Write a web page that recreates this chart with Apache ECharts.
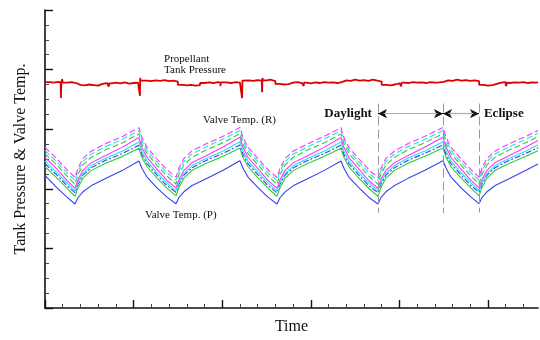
<!DOCTYPE html>
<html><head><meta charset="utf-8">
<script src="https://cdn.jsdelivr.net/npm/echarts@6/dist/echarts.min.js"></script>
<style>html,body{margin:0;padding:0;background:#fff}#c{width:540px;height:340px}</style>
</head><body><div id="c"></div>
<script>
// time in axis units (one minor tick = 1 unit)
const times = [0, 0.68, 1.24, 1.69,
 1.86, 2.14, 2.60, 3.39, 4.35, 5.30, 5.47, 5.76, 6.32, 6.88, 7.39,
 7.56, 7.84, 8.30, 9.09, 10.05, 11.00, 11.17, 11.46, 12.02, 12.58, 13.09,
 13.26, 13.54, 14.00, 14.79, 15.74, 16.70, 16.87, 17.16, 17.72, 18.28, 18.79,
 18.96, 19.24, 19.70, 20.49, 21.44, 22.46, 22.63, 22.91, 23.48, 24.04, 24.49,
 24.66, 24.94, 25.40, 26.19, 27.14, 27.82];

const magentaDashed = [53.9, 50.0, 46.4, 43.8,
 46.9, 50.2, 52.6, 55.1, 57.5, 60.5, 57.2, 53.9, 50.0, 46.4, 43.9,
 47.0, 50.2, 52.7, 55.1, 57.6, 60.6, 57.3, 53.9, 50.1, 46.4, 43.8,
 46.9, 50.1, 52.6, 55.0, 57.5, 60.5, 57.2, 53.8, 50.0, 46.3, 43.8,
 47.0, 50.2, 52.6, 55.2, 57.6, 60.6, 57.3, 53.9, 50.0, 46.4, 43.9,
 47.0, 50.2, 52.7, 55.1, 57.6, 59.6];
const cyanDashed = [52.9, 49.0, 45.4, 42.8,
 45.9, 49.2, 51.6, 54.1, 56.6, 59.5, 56.2, 52.9, 49.0, 45.4, 42.9,
 46.0, 49.2, 51.7, 54.1, 56.7, 59.6, 56.3, 52.9, 49.1, 45.4, 42.8,
 45.9, 49.1, 51.6, 54.0, 56.6, 59.5, 56.2, 52.8, 49.0, 45.3, 42.8,
 46.0, 49.2, 51.6, 54.2, 56.6, 59.6, 56.3, 52.9, 49.0, 45.4, 42.9,
 46.0, 49.2, 51.7, 54.1, 56.7, 58.6];
const greenDashed = [51.8, 47.9, 44.3, 41.5,
 44.8, 48.0, 50.5, 53.0, 55.4, 58.4, 55.1, 51.8, 47.9, 44.3, 41.6,
 44.9, 48.0, 50.6, 53.0, 55.5, 58.5, 55.2, 51.8, 48.0, 44.3, 41.5,
 44.8, 47.9, 50.5, 52.9, 55.4, 58.4, 55.1, 51.7, 47.9, 44.2, 41.5,
 44.9, 48.0, 50.5, 53.1, 55.5, 58.5, 55.2, 51.8, 47.9, 44.3, 41.6,
 44.9, 48.0, 50.6, 53.0, 55.5, 57.5];
const magentaSolid = [50.5, 46.6, 42.8, 40.2,
 43.0, 46.2, 48.7, 51.1, 53.9, 57.2, 53.9, 50.5, 46.6, 42.8, 40.3,
 43.1, 46.2, 48.8, 51.1, 54.0, 57.3, 54.0, 50.5, 46.7, 42.8, 40.2,
 43.0, 46.1, 48.7, 51.0, 53.9, 57.2, 53.9, 50.4, 46.6, 42.7, 40.2,
 43.1, 46.2, 48.7, 51.2, 54.0, 57.3, 54.0, 50.5, 46.6, 42.8, 40.3,
 43.1, 46.2, 48.8, 51.1, 54.0, 56.2];
const cyanSolid = [49.3, 45.4, 42.0, 39.3,
 42.1, 45.2, 47.7, 50.2, 52.6, 55.7, 52.6, 49.3, 45.4, 42.0, 39.4,
 42.2, 45.2, 47.8, 50.2, 52.7, 55.8, 52.7, 49.3, 45.5, 42.0, 39.3,
 42.1, 45.1, 47.7, 50.1, 52.6, 55.7, 52.6, 49.2, 45.4, 41.9, 39.3,
 42.2, 45.2, 47.7, 50.3, 52.7, 55.8, 52.7, 49.3, 45.4, 42.0, 39.4,
 42.2, 45.2, 47.8, 50.2, 52.7, 54.8];
const blueDashed = [48.4, 44.6, 41.1, 38.7,
 41.5, 44.6, 47.0, 49.5, 51.8, 54.6, 51.5, 48.4, 44.6, 41.1, 38.8,
 41.6, 44.6, 47.1, 49.5, 51.9, 54.7, 51.6, 48.4, 44.7, 41.1, 38.7,
 41.5, 44.5, 47.0, 49.4, 51.8, 54.6, 51.5, 48.3, 44.6, 41.0, 38.7,
 41.6, 44.6, 47.0, 49.6, 51.9, 54.7, 51.6, 48.4, 44.6, 41.1, 38.8,
 41.6, 44.6, 47.1, 49.5, 51.9, 53.8];
const greenSolid = [47.4, 43.6, 40.2, 37.5,
 40.3, 43.6, 46.1, 48.5, 50.8, 53.6, 50.5, 47.4, 43.6, 40.2, 37.6,
 40.4, 43.6, 46.2, 48.5, 50.9, 53.7, 50.6, 47.4, 43.7, 40.2, 37.5,
 40.3, 43.5, 46.1, 48.4, 50.8, 53.6, 50.5, 47.3, 43.6, 40.1, 37.5,
 40.4, 43.6, 46.1, 48.6, 50.9, 53.7, 50.6, 47.4, 43.6, 40.2, 37.6,
 40.4, 43.6, 46.2, 48.5, 50.9, 52.8];
const blueSolid = [44.5, 40.3, 37.2, 34.9,
 37.0, 39.0, 41.0, 43.4, 46.1, 49.3, 46.9, 43.9, 40.3, 37.2, 35.0,
 37.1, 39.0, 41.1, 43.4, 46.2, 49.4, 47.0, 43.9, 40.4, 37.2, 34.9,
 37.0, 38.9, 41.0, 43.3, 46.1, 49.3, 46.9, 43.8, 40.3, 37.1, 34.9,
 37.1, 39.0, 41.0, 43.5, 46.2, 49.4, 47.0, 43.9, 40.3, 37.2, 35.0,
 37.1, 39.0, 41.1, 43.4, 46.2, 48.3];

const pressureT = [0,0.25,0.5,0.75,0.88,0.9,0.92,0.97,1,1.25,1.5,1.75,2,2.25,2.5,2.75,3,3.25,3.5,3.6,3.62,3.75,4,4.25,4.5,4.75,5,5.25,5.34,5.36,5.37,5.39,5.5,5.75,6,6.25,6.5,6.75,7,7.25,7.5,7.75,8,8.25,8.5,8.75,9,9.25,9.5,9.75,9.9,9.92,10,10.25,10.5,10.75,11,11.1,11.12,11.14,11.25,11.5,11.75,12,12.23,12.25,12.27,12.3,12.5,12.75,13,13.25,13.5,13.75,14,14.25,14.5,14.6,14.62,14.75,15,15.25,15.5,15.75,16,16.25,16.5,16.75,17,17.25,17.5,17.75,18,18.25,18.5,18.75,19,19.25,19.5,19.75,20,20.1,20.12,20.25,20.5,20.75,21,21.25,21.5,21.75,22,22.25,22.5,22.75,23,23.25,23.5,23.75,24,24.25,24.5,24.75,25,25.25,25.5,25.75,26,26.1,26.12,26.25,26.5,26.75,27,27.25,27.5,27.75,27.82];
const pressureV = [75.8,75.6,75.9,75.7,75.7,70.5,75.8,76.8,75.6,75.8,75.5,74.9,74.7,75.0,74.8,74.6,75.2,75.5,75.3,74.3,75.4,75.6,75.4,75.7,75.3,75.5,75.6,76.0,76.2,71.2,77.2,76.3,76.3,76.1,76.4,76.2,76.5,76.1,76.3,76.0,74.9,74.7,74.9,74.6,74.8,75.5,75.7,75.5,75.8,75.6,74.4,75.7,75.7,75.5,75.8,75.6,76.1,76.2,70.4,76.3,76.4,76.2,76.5,76.3,76.2,72.4,77.2,76.4,76.6,76.1,75.2,75.0,75.1,75.6,75.8,75.5,75.7,74.5,75.6,75.4,75.7,75.5,75.8,75.6,75.7,75.5,75.8,76.4,76.2,76.6,76.3,76.5,76.2,76.6,76.3,76.0,74.9,74.7,75.0,75.4,75.7,74.4,75.6,75.5,75.8,75.6,75.7,75.5,75.8,75.6,75.7,75.9,76.4,76.2,76.6,76.3,76.5,76.2,76.4,76.1,74.9,74.6,74.8,75.2,75.6,75.8,74.5,75.6,75.5,75.7,75.6,75.8,75.5,75.7,75.6,75.8,75.7];

const majorTicks = [0, 5, 10, 15, 20, 25];
const minorTicks = [1,2,3,4,6,7,8,9,11,12,13,14,16,17,18,19,21,22,23,24,26,27];

const serif = "'Liberation Serif', 'Times New Roman', serif";
const pair = (v) => times.map((t, i) => [t, v[i]]);

function tempSeries(name, vals, color, dash) {
  return {
    name, type: 'line', data: pair(vals), showSymbol: false, symbol: 'none',
    lineStyle: { color, width: 1.1, type: dash || 'solid' }, silent: true, z: 3
  };
}

const chart = echarts.init(document.getElementById('c'), null, { renderer: 'canvas' });
const magenta = '#ff33ff', cyan = '#22e2f2', green = '#33cc33', blue = '#3344ee';

const series = [
  tempSeries('Blue', blueSolid, blue),
  tempSeries('Green', greenSolid, green),
  tempSeries('Blue dash', blueDashed, blue, [6, 2, 2, 2]),
  tempSeries('Cyan', cyanSolid, cyan),
  tempSeries('Magenta', magentaSolid, magenta),
  tempSeries('Green dash', greenDashed, green, [6, 3]),
  tempSeries('Cyan dash', cyanDashed, cyan, [6, 3]),
  tempSeries('Magenta dash', magentaDashed, magenta, [6, 3]),
  {
    name: 'Pressure', type: 'line', data: pressureT.map((t, i) => [t, pressureV[i]]),
    showSymbol: false, symbol: 'none', silent: true, z: 4, step: 'end',
    lineStyle: { color: '#dd0000', width: 1.8 },
    markPoint: {
      silent: true, symbol: 'circle', symbolSize: 0, animation: false,
      data: [
        { coord: [6.72, 81.8], label: { formatter: 'Propellant\nTank Pressure', fontSize: 11, lineHeight: 11 } },
        { coord: [8.92, 62.9], label: { formatter: 'Valve Temp. (R)', fontSize: 11 } },
        { coord: [5.64, 31.1], label: { formatter: 'Valve Temp. (P)', fontSize: 11 } },
        { coord: [18.45, 65.2], label: { formatter: 'Daylight', fontSize: 13, fontWeight: 'bold', align: 'right' } },
        { coord: [24.77, 65.2], label: { formatter: 'Eclipse', fontSize: 13, fontWeight: 'bold' } }
      ],
      label: { show: true, position: [0, 0], align: 'left', verticalAlign: 'middle', color: '#111', fontFamily: serif }
    },
    markLine: {
      silent: true, symbol: ['none', 'none'], animation: false,
      label: { show: false },
      lineStyle: { color: '#999', width: 1, type: [9, 4] },
      data: [
        [{ coord: [18.79, 68.6] }, { coord: [18.79, 32.0] }],
        [{ coord: [22.46, 68.6] }, { coord: [22.46, 31.8] }],
        [{ coord: [24.49, 68.6] }, { coord: [24.49, 32.0] }]
      ]
    }
  },
  {
    name: 'arrows', type: 'line', data: [], silent: true, z: 5,
    markLine: {
      silent: true, symbol: ['arrow', 'arrow'], symbolSize: [7, 9], animation: false,
      label: { show: false },
      lineStyle: { color: '#111', width: 1, type: 'solid' },
      data: [
        [{ coord: [18.79, 65.2] }, { coord: [22.46, 65.2] }],
        [{ coord: [22.46, 65.2] }, { coord: [24.49, 65.2] }]
      ]
    }
  },
  {
    name: 'arrowline', type: 'line', data: [], silent: true, z: 6,
    markLine: {
      silent: true, symbol: ['none', 'none'], animation: false,
      label: { show: false },
      lineStyle: { color: '#aaa', width: 1.2, type: 'solid' },
      data: [
        [{ coord: [19.1, 65.2] }, { coord: [22.15, 65.2] }],
        [{ coord: [22.77, 65.2] }, { coord: [24.18, 65.2] }]
      ]
    }
  }
];

chart.setOption({
  animation: false,
  backgroundColor: '#fff',
  grid: { left: 45, top: 10, width: 493, height: 305, containLabel: false },
  xAxis: [{
    type: 'value', min: 0, max: 27.82, interval: 5,
    name: 'Time', nameLocation: 'middle', nameGap: 11,
    nameTextStyle: { fontFamily: serif, fontSize: 16, color: '#111', verticalAlign: 'top' },
    axisLine: { onZero: false, lineStyle: { color: '#111', width: 1.6 } },
    axisTick: { inside: true, length: 8, customValues: majorTicks, lineStyle: { color: '#111', width: 1.4 } },
    axisLabel: { show: false }, splitLine: { show: false }
  }, {
    type: 'value', min: 0, max: 27.82, position: 'bottom', offset: 0,
    axisLine: { show: false },
    axisTick: { inside: true, length: 4, customValues: minorTicks, lineStyle: { color: '#444', width: 1 } },
    axisLabel: { show: false }, splitLine: { show: false }
  }],
  yAxis: {
    type: 'value', min: 0, max: 100, interval: 20,
    name: 'Tank Pressure & Valve Temp.', nameLocation: 'middle', nameGap: 16,
    nameTextStyle: { fontFamily: serif, fontSize: 16, color: '#111' },
    axisLine: { onZero: false, lineStyle: { color: '#111', width: 1.6 } },
    axisTick: { inside: true, length: 8, lineStyle: { color: '#111', width: 1.4 } },
    minorTick: { show: true, splitNumber: 4, length: 4, lineStyle: { color: '#444', width: 1 } },
    axisLabel: { show: false }, splitLine: { show: false }, minorSplitLine: { show: false }
  },
  series
});
</script></body></html>
